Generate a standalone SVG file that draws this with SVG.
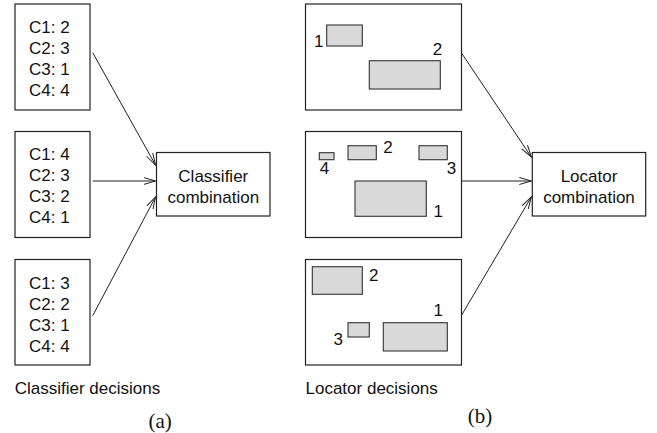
<svg xmlns="http://www.w3.org/2000/svg" width="657" height="433" viewBox="0 0 657 433">
  <style>
    .box { fill: #ffffff; stroke: #222222; stroke-width: 1.2; }
    .det { fill: #d9d9d9; stroke: #333333; stroke-width: 1.1; }
    .txt { font-family: "Liberation Sans", Arial, sans-serif; font-size: 17px; fill: #111111; }
    .mid { text-anchor: middle; }
    .cap { font-family: "Liberation Serif", "Times New Roman", serif; font-size: 21px; fill: #111111; text-anchor: middle; }
    .edge { fill: none; stroke: #222222; stroke-width: 1; marker-end: url(#open); }
  </style>
  <defs>
    <marker id="open" markerUnits="userSpaceOnUse" markerWidth="14" markerHeight="10" refX="12" refY="4" orient="auto">
      <path d="M0,0.5 L12,4 L0,7.5" fill="none" stroke="#222222" stroke-width="1"/>
    </marker>
  </defs>
  <rect width="657" height="433" fill="#ffffff"/>

  <!-- (a) classifier decisions -->
  <g id="cls1">
    <rect class="box" x="15" y="4" width="75" height="106"/>
    <text class="txt" x="29" y="32.5">C1: 2</text>
    <text class="txt" x="29" y="53.5">C2: 3</text>
    <text class="txt" x="29" y="74.5">C3: 1</text>
    <text class="txt" x="29" y="95.5">C4: 4</text>
  </g>
  <g id="cls2">
    <rect class="box" x="15" y="131.5" width="75" height="106"/>
    <text class="txt" x="29" y="160">C1: 4</text>
    <text class="txt" x="29" y="181">C2: 3</text>
    <text class="txt" x="29" y="202">C3: 2</text>
    <text class="txt" x="29" y="223">C4: 1</text>
  </g>
  <g id="cls3">
    <rect class="box" x="15" y="259.5" width="75" height="105.5"/>
    <text class="txt" x="29" y="288.5">C1: 3</text>
    <text class="txt" x="29" y="309.5">C2: 2</text>
    <text class="txt" x="29" y="330.5">C3: 1</text>
    <text class="txt" x="29" y="351.5">C4: 4</text>
  </g>
  <g id="clscomb">
    <rect class="box" x="156.5" y="152.5" width="113.5" height="63.5"/>
    <text class="txt mid" x="213.3" y="181.5">Classifier</text>
    <text class="txt mid" x="213.3" y="202.5">combination</text>
  </g>
  <text class="txt" x="14.7" y="394">Classifier decisions</text>
  <text class="cap" x="160.2" y="428">(a)</text>

  <!-- (b) locator decisions -->
  <g id="loc1">
    <rect class="box" x="305.5" y="4" width="156" height="106"/>
    <rect class="det" x="326.7" y="25" width="35.6" height="21"/>
    <text class="txt" x="314" y="46.5">1</text>
    <rect class="det" x="369.3" y="60.7" width="71" height="28.3"/>
    <text class="txt" x="432.7" y="54.5">2</text>
  </g>
  <g id="loc2">
    <rect class="box" x="305.5" y="131.5" width="156" height="106"/>
    <rect class="det" x="319.3" y="152.7" width="14.7" height="7"/>
    <text class="txt" x="319.8" y="174">4</text>
    <rect class="det" x="348" y="145.7" width="28.3" height="14"/>
    <text class="txt" x="383.3" y="153">2</text>
    <rect class="det" x="419" y="145.7" width="28.3" height="14"/>
    <text class="txt" x="446.7" y="174">3</text>
    <rect class="det" x="355" y="181" width="71.3" height="35.3"/>
    <text class="txt" x="433.5" y="217">1</text>
  </g>
  <g id="loc3">
    <rect class="box" x="305.5" y="259.5" width="156" height="105.5"/>
    <rect class="det" x="312.3" y="266.7" width="50" height="27.6"/>
    <text class="txt" x="369" y="280.5">2</text>
    <rect class="det" x="348" y="322.7" width="21.3" height="14.3"/>
    <text class="txt" x="333.5" y="344.5">3</text>
    <rect class="det" x="383.3" y="322.7" width="64" height="28.3"/>
    <text class="txt" x="433.5" y="315.5">1</text>
  </g>
  <g id="loccomb">
    <rect class="box" x="532.3" y="152.5" width="113.4" height="63.5"/>
    <text class="txt mid" x="589" y="181.5">Locator</text>
    <text class="txt mid" x="589" y="202.5">combination</text>
  </g>
  <text class="txt" x="305.5" y="394">Locator decisions</text>
  <text class="cap" x="480" y="423">(b)</text>

  <!-- connectors -->
  <g id="connectors">
    <line class="edge" x1="92.7" y1="52.7" x2="155.5" y2="165"/>
    <line class="edge" x1="92.7" y1="181" x2="155.5" y2="181"/>
    <line class="edge" x1="92.7" y1="315.7" x2="155.5" y2="197"/>
    <line class="edge" x1="461.7" y1="53.3" x2="531.3" y2="157"/>
    <line class="edge" x1="461.7" y1="181" x2="531.3" y2="181"/>
    <line class="edge" x1="461.7" y1="315" x2="531.3" y2="197"/>
  </g>
</svg>
